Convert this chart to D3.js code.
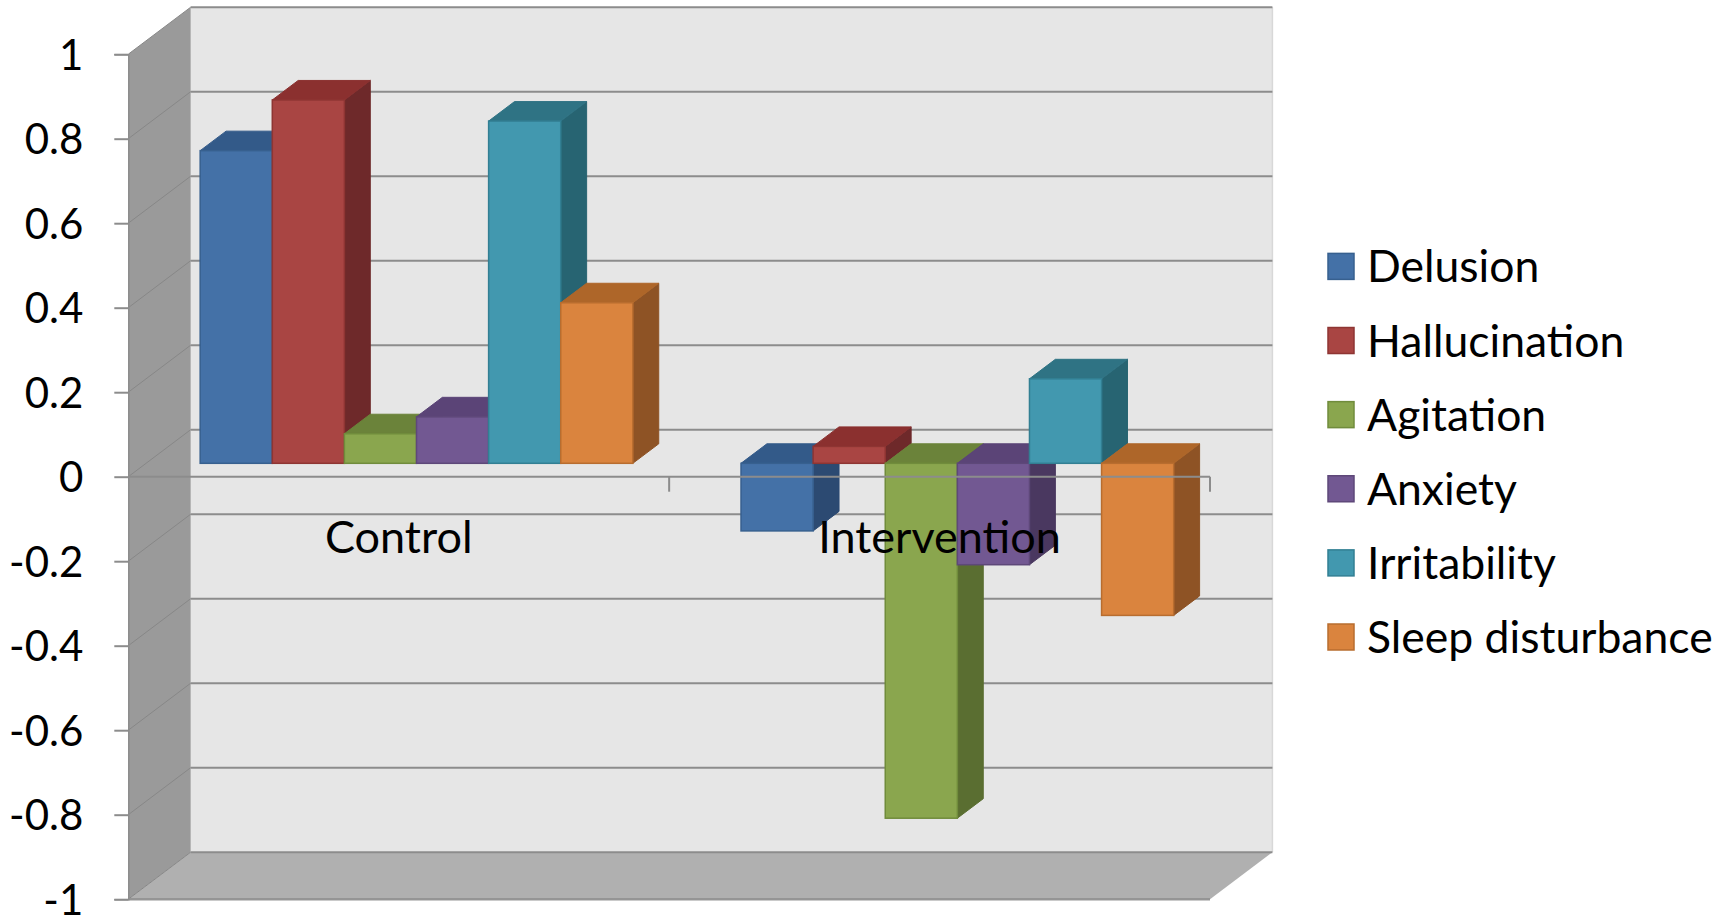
<!DOCTYPE html>
<html>
<head>
<meta charset="utf-8">
<script src="https://cdn.jsdelivr.net/npm/d3@7"></script>
<style>
  html, body { margin: 0; padding: 0; background: #fff; }
  svg { display: block; }
  text { font-family: Lato, "Open Sans", sans-serif; fill: #000; }
</style>
</head>
<body>
<svg id="chart" width="1719" height="923"></svg>
<script>
// ---- data ----
const categories = ["Control", "Intervention"];
const seriesNames = ["Delusion", "Hallucination", "Agitation", "Anxiety", "Irritability", "Sleep disturbance"];
const delusion      = [0.74, -0.16];
const hallucination = [0.86, 0.04];
const agitation     = [0.07, -0.84];
const anxiety       = [0.11, -0.24];
const irritability  = [0.81, 0.20];
const sleepDisturb  = [0.38, -0.36];
const yTicks = [-1, -0.8, -0.6, -0.4, -0.2, 0, 0.2, 0.4, 0.6, 0.8, 1];

const seriesValues = [delusion, hallucination, agitation, anxiety, irritability, sleepDisturb];

// ---- styles ----
const colors = [
  {front: "#4471A7", top: "#335A89", side: "#2C4A72", stroke: "#37608F"},
  {front: "#A94543", top: "#8B302F", side: "#6E292A", stroke: "#8E3533"},
  {front: "#8AA64E", top: "#6B833A", side: "#5A6E31", stroke: "#708C3C"},
  {front: "#725892", top: "#5B4477", side: "#4A3860", stroke: "#5E4879"},
  {front: "#4298AF", top: "#2F7384", side: "#276472", stroke: "#327F93"},
  {front: "#DA843E", top: "#AE6629", side: "#8E5325", stroke: "#B86D2F"}
];

const svg = d3.select("#chart");
const left = 128.3, right = 1210;
const DX = 62.4, DY = -47;          // full wall depth offset
const dFront = 0.285, dDepth = 0.415; // bar depth position/size (fraction of wall depth)

const y = d3.scaleLinear().domain([-1, 1]).range([899.2, 54.2]);
const x0 = d3.scaleBand().domain(categories).range([left, right]).paddingInner(0).paddingOuter(0);
const x1 = d3.scaleBand().domain(seriesNames).range([0, x0.bandwidth()]).paddingInner(0).paddingOuter(0.75);

const gridColor = "#8C8C8C";

// ---- walls ----
const bx0 = left + DX, bx1 = right + DX;
svg.append("polygon")
  .attr("points", [[bx0, y(1) + DY], [bx1, y(1) + DY], [bx1, y(-1) + DY], [bx0, y(-1) + DY]].join(" "))
  .attr("fill", "#E6E6E6");
svg.append("polygon")
  .attr("points", [[left, y(1)], [bx0, y(1) + DY], [bx0, y(-1) + DY], [left, y(-1)]].join(" "))
  .attr("fill", "#9A9A9A");
svg.append("polygon")
  .attr("points", [[left, y(-1)], [bx0, y(-1) + DY], [bx1, y(-1) + DY], [right, y(-1)]].join(" "))
  .attr("fill", "#B0B0B0");

// back wall right edge
svg.append("line").attr("x1", bx1).attr("x2", bx1).attr("y1", y(1) + DY).attr("y2", y(-1) + DY)
  .attr("stroke", "#D8D8D8").attr("stroke-width", 1.5);

// back-wall gridlines
svg.append("g").selectAll("line").data(yTicks).join("line")
  .attr("x1", bx0).attr("x2", bx1)
  .attr("y1", d => y(d) + DY).attr("y2", d => y(d) + DY)
  .attr("stroke", gridColor).attr("stroke-width", 2);
// side-wall gridlines
svg.append("g").selectAll("line").data(yTicks).join("line")
  .attr("x1", left).attr("x2", bx0)
  .attr("y1", d => y(d)).attr("y2", d => y(d) + DY)
  .attr("stroke", "#878787").attr("stroke-width", 1);

// floor front edge
svg.append("line").attr("x1", left).attr("x2", right).attr("y1", y(-1)).attr("y2", y(-1))
  .attr("stroke", "#959595").attr("stroke-width", 2.5);

// ---- value axis ----
const yAxis = d3.axisLeft(y).tickValues(yTicks).tickSize(14).tickPadding(31)
  .tickFormat(d => String(d));
const gy = svg.append("g").attr("transform", `translate(${left},0)`).call(yAxis);
gy.select(".domain").attr("stroke", "#8C8C8C").attr("stroke-width", 1.5);
gy.selectAll(".tick line").attr("stroke", "#8C8C8C").attr("stroke-width", 2);
gy.selectAll(".tick text")
  .style("font-family", "Lato, 'Open Sans', sans-serif")
  .style("font-size", "42px").attr("fill", "#000").attr("dy", "0.36em");

// ---- bars ----
const ddx = dDepth * DX, ddy = dDepth * DY;
const barsG = svg.append("g");
categories.forEach((cat, ci) => {
  seriesNames.forEach((s, si) => {
    const v = seriesValues[si][ci];
    const c = colors[si];
    const w = x1.bandwidth();
    const fx = x0(cat) + x1(s) + dFront * DX;
    const yTop = y(Math.max(v, 0)) + dFront * DY;
    const yBot = y(Math.min(v, 0)) + dFront * DY;
    const g = barsG.append("g");
    g.append("polygon")
      .attr("points", [[fx + w, yTop], [fx + w + ddx, yTop + ddy], [fx + w + ddx, yBot + ddy], [fx + w, yBot]].join(" "))
      .attr("fill", c.side).attr("stroke", c.side).attr("stroke-width", 1);
    g.append("polygon")
      .attr("points", [[fx, yTop], [fx + w, yTop], [fx + w + ddx, yTop + ddy], [fx + ddx, yTop + ddy]].join(" "))
      .attr("fill", c.top).attr("stroke", c.top).attr("stroke-width", 1);
    g.append("rect")
      .attr("x", fx).attr("y", yTop).attr("width", w).attr("height", Math.max(yBot - yTop, 0.5))
      .attr("fill", c.front).attr("stroke", c.stroke).attr("stroke-width", 1.5);
  });
});

// ---- category axis (front, at zero) ----
svg.append("line").attr("x1", left).attr("x2", right).attr("y1", y(0)).attr("y2", y(0))
  .attr("stroke", "#8C8C8C").attr("stroke-width", 2);
const boundaries = categories.map(c => x0(c) + x0.bandwidth());
svg.append("g").selectAll("line").data(boundaries).join("line")
  .attr("x1", d => d).attr("x2", d => d).attr("y1", y(0)).attr("y2", y(0) + 15)
  .attr("stroke", "#8C8C8C").attr("stroke-width", 2);
svg.append("g").selectAll("text").data(categories).join("text")
  .attr("x", d => x0(d) + x0.bandwidth() / 2)
  .attr("y", y(0) + 76)
  .attr("text-anchor", "middle")
  .style("font-size", "45px")
  .text(d => d);

// ---- legend ----
const legend = svg.append("g");
const legY = d3.scalePoint().domain(seriesNames).range([266.4, 637]);
seriesNames.forEach((s, i) => {
  const cy = legY(s);
  legend.append("rect")
    .attr("x", 1328).attr("y", cy - 13).attr("width", 26).attr("height", 26)
    .attr("fill", colors[i].front).attr("stroke", colors[i].stroke).attr("stroke-width", 1.5);
  legend.append("text")
    .attr("x", 1367).attr("y", cy).attr("dy", "0.36em")
    .style("font-size", "44.5px")
    .text(s);
});
</script>
</body>
</html>
